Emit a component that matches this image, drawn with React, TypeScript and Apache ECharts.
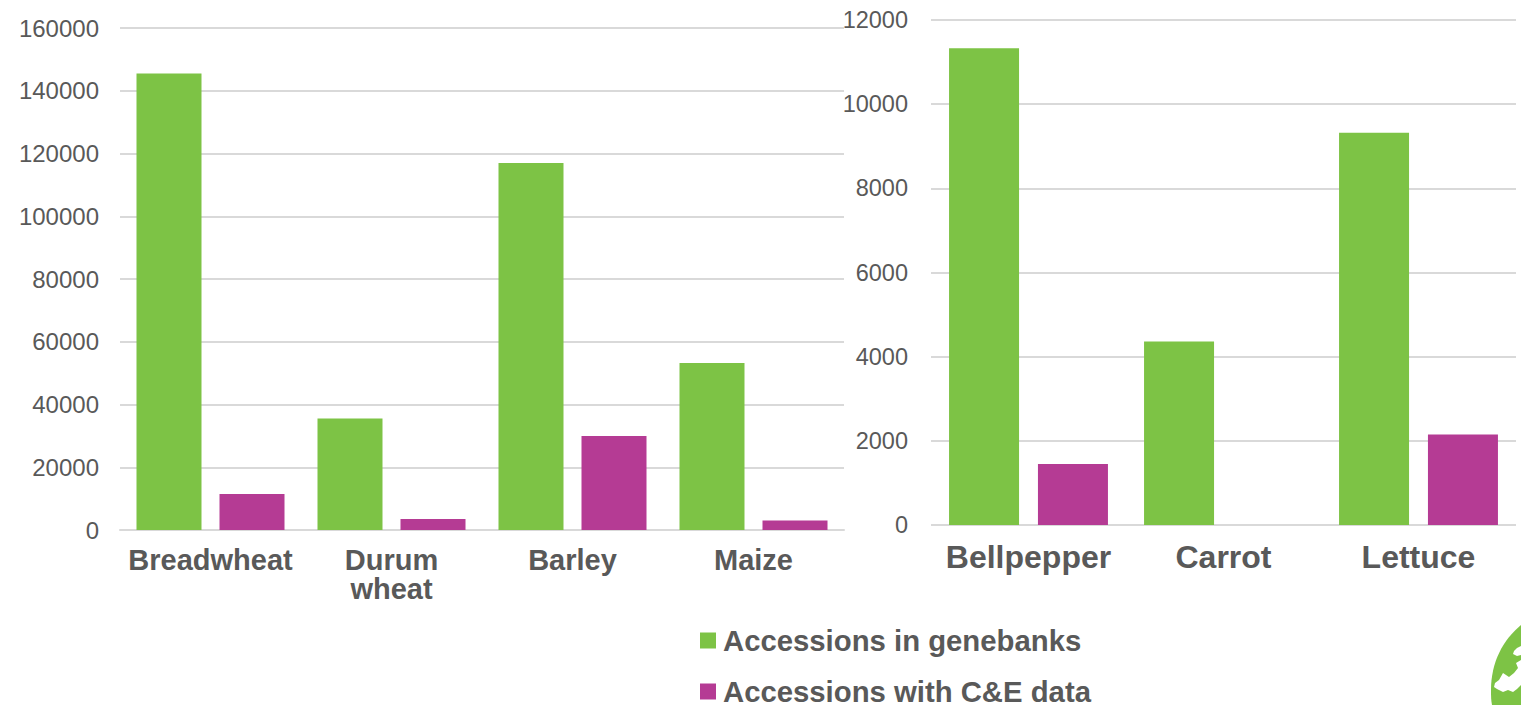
import React, { useEffect, useRef } from "react";
import * as echarts from "echarts";

const leftCategories = ["Breadwheat", "Durum\nwheat", "Barley", "Maize"];
const leftGenebanks = [145500, 35500, 117000, 53200];
const leftData = [11500, 3500, 30000, 3000];
const rightCategories = ["Bellpepper", "Carrot", "Lettuce"];
const rightGenebanks = [11330, 4360, 9320];
const rightData = [1450, 0, 2150];
const GREEN = "#7DC345";
const PURPLE = "#B53B94";
const TEXT = "#595959";
const FONT = "Liberation Sans";
const plain = (v: number) => String(v);

echarts.graphic.registerShape(
  "globe",
  echarts.graphic.extendPath(
    "M1521 625 C1503 640 1491 662 1491 690 C1491 696 1491 700 1492 705 L1521 705 Z",
    {}
  ) as any
);
echarts.graphic.registerShape(
  "landNorth",
  echarts.graphic.extendPath(
    "M1521 646 L1517 648 L1514 651 L1513 654 L1517 656 L1521 655 Z",
    {}
  ) as any
);
echarts.graphic.registerShape(
  "landSouth",
  echarts.graphic.extendPath(
    "M1521 660 L1516 663 L1518 668 L1514 673 L1509 677 L1503 673 L1499 680 L1495 683 L1494 687 L1497 689 L1503 692 L1508 690 L1513 692 L1517 689 L1521 685 Z",
    {}
  ) as any
);

export default function App() {
  const ref = useRef<HTMLDivElement>(null);
  useEffect(() => {
    const chart = echarts.init(ref.current!, undefined, { renderer: "svg" });
    const axisCommon = {
      axisLine: { lineStyle: { color: "#D9D9D9", width: 2 } },
      axisTick: { show: false },
    };
    const yCommon = {
      type: "value" as const,
      axisLine: { show: false },
      axisTick: { show: false },
      splitLine: { lineStyle: { color: "#D9D9D9", width: 2 } },
    };
    chart.setOption({
      animation: false,
      backgroundColor: "#fff",
      legend: {
        orient: "vertical",
        left: 700,
        top: 626,
        height: 120,
        padding: 0,
        itemWidth: 16,
        itemHeight: 16,
        itemGap: 22,
        icon: "rect",
        data: ["Accessions in genebanks", "Accessions with C&E data"],
        textStyle: { fontFamily: FONT, fontSize: 29.3, fontWeight: "bold", color: TEXT, padding: [0, 0, 0, 2] },
        itemStyle: { borderWidth: 0 },
      },
      grid: [
        { left: 120, top: 28, width: 724, height: 502 },
        { left: 931, top: 20, width: 585, height: 505 },
      ],
      xAxis: [
        { ...axisCommon, type: "category", gridIndex: 0, data: leftCategories,
          axisLabel: { interval: 0, margin: 15, fontFamily: FONT, fontSize: 29, fontWeight: "bold", color: TEXT, lineHeight: 29 } },
        { ...axisCommon, type: "category", gridIndex: 1, data: rightCategories,
          axisLine: { show: false },
          axisLabel: { interval: 0, margin: 16, fontFamily: FONT, fontSize: 32, fontWeight: "bold", color: TEXT } },
      ],
      yAxis: [
        { ...yCommon, gridIndex: 0, min: 0, max: 160000, interval: 20000,
          axisLabel: { margin: 21, fontFamily: FONT, fontSize: 24, color: TEXT, formatter: plain } },
        { ...yCommon, gridIndex: 1, min: 0, max: 12000, interval: 2000,
          axisLabel: { margin: 23, fontFamily: FONT, fontSize: 23.5, color: TEXT, formatter: plain } },
      ],
      series: [
        { name: "Accessions in genebanks", type: "bar", xAxisIndex: 0, yAxisIndex: 0, data: leftGenebanks, barWidth: 65, barGap: "27.7%", itemStyle: { color: GREEN } },
        { name: "Accessions with C&E data", type: "bar", xAxisIndex: 0, yAxisIndex: 0, data: leftData, barWidth: 65, barGap: "27.7%", itemStyle: { color: PURPLE } },
        { name: "Accessions in genebanks", type: "bar", xAxisIndex: 1, yAxisIndex: 1, data: rightGenebanks, barWidth: 70, barGap: "27%", itemStyle: { color: GREEN } },
        { name: "Accessions with C&E data", type: "bar", xAxisIndex: 1, yAxisIndex: 1, data: rightData, barWidth: 70, barGap: "27%", itemStyle: { color: PURPLE } },
      ],
      graphic: [
        { type: "globe", style: { fill: GREEN } },
        { type: "landNorth", style: { fill: "#fff" } },
        { type: "landSouth", style: { fill: "#fff" } },
      ],
    });
    return () => chart.dispose();
  }, []);
  return <div ref={ref} style={{ position: "fixed", left: 0, top: 0, width: 1521, height: 705 }} />;
}
